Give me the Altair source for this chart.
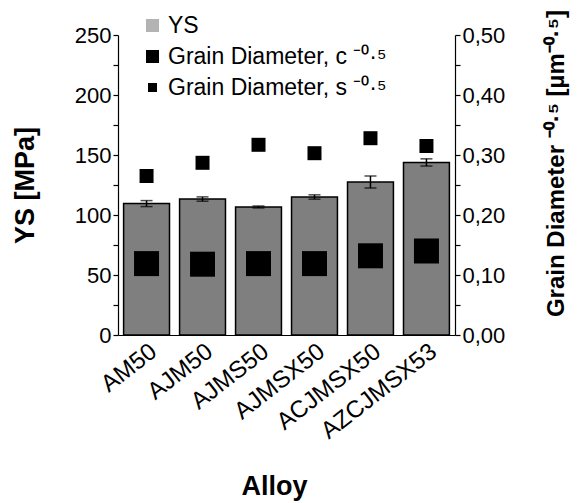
import altair as alt
import pandas as pd

alloys = ["AM50", "AJM50", "AJMS50", "AJMSX50", "ACJMSX50", "AZCJMSX53"]
ys = [109.5, 113.3, 106.7, 115.0, 127.5, 143.8]
ys_err = [2.5, 1.8, 0.8, 1.8, 5.0, 3.0]
gd_c = [0.119, 0.118, 0.119, 0.119, 0.132, 0.140]
gd_s = [0.265, 0.287, 0.317, 0.303, 0.328, 0.315]

left_ticks = [0, 25, 50, 75, 100, 125, 150, 175, 200, 225, 250]
right_ticks = [0.0, 0.05, 0.10, 0.15, 0.20, 0.25, 0.30, 0.35, 0.40, 0.45, 0.50]

SUP = "\u207b\u2070\u00b7\u2075"
series_names = ["YS", "Grain Diameter, c " + SUP, "Grain Diameter, s " + SUP]
series_colors = ["#b3b3b3", "#000000", "#000000"]
series_sizes = [169, 169, 81]

df = pd.DataFrame({
    "alloy": alloys,
    "ys": ys,
    "lo": [v - e for v, e in zip(ys, ys_err)],
    "hi": [v + e for v, e in zip(ys, ys_err)],
    "c": gd_c,
    "s": gd_s,
})

FONT = "Liberation Sans"

x_enc = alt.X("alloy:N", sort=alloys,
              scale=alt.Scale(paddingInner=0.18, paddingOuter=0.1),
              axis=alt.Axis(title="Alloy", labelAngle=-38, labelAlign="right",
                            labelBaseline="top", ticks=False, labelPadding=4,
                            titlePadding=30, titleX=156,
                            labelFontSize=24, titleFontSize=27))

left_axis = alt.Axis(title="YS [MPa]", orient="left", values=left_ticks,
                     labelExpr="datum.value % 50 === 0 ? datum.label : ''",
                     tickSize=5, labelFontSize=22, titleFontSize=27,
                     titlePadding=35, grid=False)
left_scale = alt.Scale(domain=[0, 250], nice=False)

right_axis = alt.Axis(title="Grain Diameter " + SUP + " [\u00b5m" + SUP + "]",
                      orient="right", values=right_ticks,
                      labelExpr="(round(datum.value*100) % 10 === 0) ? replace(format(datum.value, '.2f'), '.', ',') : ''",
                      tickSize=5, labelFontSize=22, titleFontSize=24,
                      titleAngle=270, titlePadding=64, titleY=128, grid=False)
right_scale = alt.Scale(domain=[0, 0.5], nice=False)

base = alt.Chart(df)

bars = base.mark_bar(fill="#7f7f7f", stroke="black", strokeWidth=1.5).encode(
    x=x_enc,
    y=alt.Y("ys:Q", scale=left_scale, axis=left_axis),
)
err_rule = base.mark_rule(color="black", strokeWidth=1.5).encode(
    x=x_enc,
    y=alt.Y("lo:Q", scale=left_scale, axis=left_axis),
    y2="hi:Q",
)
cap_lo = base.mark_tick(color="black", size=12, thickness=1.5).encode(
    x=x_enc, y=alt.Y("lo:Q", scale=left_scale, axis=left_axis))
cap_hi = base.mark_tick(color="black", size=12, thickness=1.5).encode(
    x=x_enc, y=alt.Y("hi:Q", scale=left_scale, axis=left_axis))

left = alt.layer(bars, err_rule, cap_lo, cap_hi)

pts_c = base.mark_square(size=625, color="black", opacity=1).encode(
    x=x_enc, y=alt.Y("c:Q", scale=right_scale, axis=right_axis))
pts_s = base.mark_square(size=196, color="black", opacity=1).encode(
    x=x_enc, y=alt.Y("s:Q", scale=right_scale, axis=right_axis))

leg = alt.Legend(title=None, orient="none", legendX=23, legendY=-21,
                 labelFontSize=23, labelOffset=4, rowPadding=7, labelLimit=0,
                 symbolStrokeWidth=0, labelFont=FONT)

legend_df = pd.DataFrame({"series": series_names})
legend_layer = alt.Chart(legend_df).transform_filter("false").mark_square(opacity=1).encode(
    fill=alt.Fill("series:N", scale=alt.Scale(domain=series_names, range=series_colors),
                  legend=leg),
    size=alt.Size("series:N", scale=alt.Scale(type="ordinal", domain=series_names,
                                              range=series_sizes),
                  legend=leg),
)

right = alt.layer(pts_c, pts_s, legend_layer)

chart = alt.layer(left, right).resolve_scale(y="independent").properties(
    width=337, height=300,
    autosize=alt.AutoSizeParams(type="none"),
    padding={"left": 110, "top": 27, "right": 120, "bottom": 166},
).configure_view(stroke=None).configure_axis(
    labelFont=FONT, titleFont=FONT, labelColor="black", titleColor="black",
    domainColor="black", tickColor="black", domainWidth=1.2, tickWidth=1.2,
    titleFontWeight="bold", grid=False,
).configure_legend(labelColor="black")

chart.save("out.html", embed_options={"renderer": "svg", "actions": False})
